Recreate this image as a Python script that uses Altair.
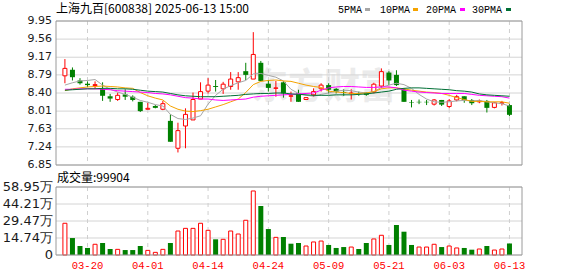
import altair as alt
import pandas as pd

# ---------------- data ----------------
tick_idx = [3, 11, 19, 27, 35, 43, 51, 59]
tick_labels = ["03-20", "04-01", "04-14", "04-24", "05-09", "05-21", "06-03", "06-13"]

price_ticks = [9.95, 9.56, 9.17, 8.79, 8.40, 8.01, 7.63, 7.24, 6.85]
price_tick_labels = ["9.95", "9.56", "9.17", "8.79", "8.40", "8.01", "7.63", "7.24", "6.85"]

vol_ticks = [58.95, 44.21, 29.47, 14.74, 0]
vol_tick_labels = ["58.95万", "44.21万", "29.47万", "14.74万", "0"]

opens = [8.77, 8.90, 8.67, 8.60, 8.56, 8.49, 8.33, 8.26, 8.37, 8.32,
         8.21, 8.05, 8.12, 8.05, 7.80, 7.21, 7.69, 7.82, 8.27, 8.44,
         8.55, 8.49, 8.54, 8.64, 8.87, 8.70, 9.05, 8.60, 8.50, 8.63,
         8.33, 8.39, 8.26, 8.36, 8.49, 8.57, 8.49, 8.42, 8.39, 8.40,
         8.41, 8.42, 8.55, 8.84, 8.79, 8.48, 8.20, 8.21, 8.21, 8.16,
         8.25, 8.11, 8.25, 8.33, 8.25, 8.21, 8.23, 8.09, 8.18, 8.14]
closes = [8.93, 8.74, 8.61, 8.57, 8.58, 8.34, 8.28, 8.35, 8.32, 8.25,
          8.01, 8.07, 8.08, 8.17, 7.35, 7.59, 7.94, 8.26, 8.43, 8.57,
          8.53, 8.59, 8.70, 8.73, 8.79, 9.23, 8.66, 8.51, 8.51, 8.39,
          8.34, 8.21, 8.30, 8.43, 8.57, 8.47, 8.43, 8.40, 8.40, 8.39,
          8.36, 8.59, 8.86, 8.67, 8.57, 8.21, 8.19, 8.20, 8.20, 8.25,
          8.15, 8.23, 8.32, 8.25, 8.18, 8.23, 8.08, 8.19, 8.19, 7.93]
highs = [9.13, 8.95, 8.72, 8.65, 8.65, 8.63, 8.38, 8.41, 8.48, 8.35,
         8.21, 8.19, 8.14, 8.23, 7.94, 7.76, 8.07, 8.41, 8.63, 8.72,
         8.68, 8.64, 8.85, 8.85, 9.05, 9.71, 9.09, 8.68, 8.66, 8.66,
         8.43, 8.47, 8.31, 8.50, 8.61, 8.61, 8.51, 8.48, 8.48, 8.43,
         8.41, 8.62, 8.93, 8.87, 8.89, 8.50, 8.25, 8.26, 8.25, 8.27,
         8.25, 8.27, 8.36, 8.33, 8.27, 8.26, 8.25, 8.21, 8.23, 8.16]
lows = [8.61, 8.67, 8.58, 8.53, 8.49, 8.23, 8.21, 8.23, 8.25, 8.22,
        7.99, 8.05, 8.07, 8.03, 7.35, 7.12, 7.21, 7.82, 8.27, 8.39,
        8.43, 8.38, 8.47, 8.47, 8.68, 8.70, 8.66, 8.43, 8.32, 8.30,
        8.21, 8.21, 8.25, 8.32, 8.43, 8.39, 8.39, 8.34, 8.26, 8.34,
        8.34, 8.39, 8.50, 8.57, 8.55, 8.21, 8.09, 8.16, 8.14, 8.13,
        8.12, 8.07, 8.22, 8.19, 8.14, 8.18, 7.98, 8.07, 8.13, 7.90]

# volume in 万 shares
volumes = [27.5, 14.7, 7.8, 6.1, 9.3, 10.4, 5.2, 4.9, 4.3, 4.3,
           7.8, 4.0, 2.3, 4.9, 10.4, 20.8, 23.1, 23.1, 27.5, 21.4,
           13.6, 13.6, 20.8, 18.2, 30.1, 55.5, 42.5, 22.5, 15.3, 15.6,
           9.8, 10.4, 7.8, 11.3, 12.1, 8.7, 6.1, 6.9, 6.9, 5.2,
           10.4, 13.9, 17.1, 8.7, 26.0, 20.2, 8.7, 6.9, 6.9, 9.3,
           6.9, 7.8, 6.1, 6.1, 4.6, 5.2, 7.8, 4.3, 5.2, 9.99]
vol_up = [1, 0, 0, 0, 1, 0, 0, 1, 0, 0,
          0, 1, 1, 1, 0, 1, 1, 1, 1, 1,
          0, 1, 1, 1, 1, 1, 0, 0, 1, 0,
          0, 0, 1, 1, 1, 0, 0, 0, 1, 0,
          0, 1, 1, 0, 0, 0, 0, 1, 1, 1,
          0, 1, 1, 0, 0, 1, 0, 1, 1, 0]

ma5 = [8.57, 8.62, 8.66, 8.67, 8.69, 8.57, 8.48, 8.42, 8.37, 8.31,
       8.24, 8.20, 8.15, 8.12, 7.94, 7.85, 7.83, 7.86, 7.91, 8.16,
       8.35, 8.48, 8.56, 8.62, 8.67, 8.81, 8.82, 8.78, 8.74, 8.66,
       8.48, 8.39, 8.35, 8.33, 8.37, 8.40, 8.44, 8.46, 8.45, 8.42,
       8.40, 8.43, 8.52, 8.57, 8.61, 8.58, 8.50, 8.37, 8.27, 8.21,
       8.20, 8.21, 8.23, 8.24, 8.23, 8.24, 8.21, 8.19, 8.17, 8.12]
ma10 = [8.45, 8.49, 8.51, 8.53, 8.54, 8.55, 8.54, 8.53, 8.51, 8.50,
        8.41, 8.34, 8.29, 8.25, 8.12, 8.05, 8.01, 8.00, 8.02, 8.05,
        8.10, 8.15, 8.21, 8.27, 8.41, 8.58, 8.65, 8.67, 8.68, 8.66,
        8.65, 8.61, 8.57, 8.54, 8.52, 8.44, 8.42, 8.41, 8.39, 8.39,
        8.40, 8.43, 8.49, 8.51, 8.51, 8.49, 8.46, 8.44, 8.42, 8.41,
        8.39, 8.35, 8.30, 8.26, 8.22, 8.22, 8.21, 8.21, 8.21, 8.18]
ma20 = [8.48, 8.48, 8.49, 8.49, 8.49, 8.48, 8.47, 8.45, 8.44, 8.43,
        8.42, 8.41, 8.39, 8.38, 8.36, 8.33, 8.30, 8.29, 8.27, 8.27,
        8.25, 8.24, 8.25, 8.26, 8.27, 8.31, 8.33, 8.34, 8.35, 8.36,
        8.37, 8.38, 8.39, 8.40, 8.46, 8.51, 8.53, 8.54, 8.54, 8.53,
        8.52, 8.52, 8.53, 8.53, 8.51, 8.46, 8.44, 8.42, 8.41, 8.40,
        8.39, 8.39, 8.39, 8.39, 8.37, 8.35, 8.34, 8.33, 8.32, 8.29]
ma30 = [8.46, 8.47, 8.48, 8.49, 8.49, 8.50, 8.50, 8.49, 8.49, 8.48,
        8.46, 8.44, 8.43, 8.42, 8.39, 8.36, 8.34, 8.33, 8.32, 8.32,
        8.32, 8.33, 8.34, 8.35, 8.37, 8.38, 8.39, 8.39, 8.40, 8.40,
        8.38, 8.37, 8.36, 8.35, 8.35, 8.35, 8.36, 8.36, 8.36, 8.37,
        8.38, 8.40, 8.42, 8.44, 8.48, 8.50, 8.51, 8.51, 8.50, 8.49,
        8.48, 8.47, 8.45, 8.44, 8.42, 8.38, 8.36, 8.35, 8.34, 8.33]

ma_names = ["5PMA", "10PMA", "20PMA", "30PMA"]
ma_colors = ["#a6a6a6", "#f5a300", "#ff00ff", "#006f35"]

title_text = "上海九百[600838] 2025-06-13 15:00"
vol_title = "成交量:99904"

# ---------------- layout constants ----------------
W, H = 466, 234          # whole plotting block (price + gap + volume)
PH = 144                 # price panel height
VT = 166                 # top of volume panel inside block
RED = "#ff0000"
GREEN = "#008000"
GRID = "#d4d4d4"
FRAME = "#9a9a9a"
CJK = "Noto Sans CJK SC"

n = len(opens)
cdf = pd.DataFrame({"i": list(range(n)), "open": opens, "close": closes,
                    "high": highs, "low": lows, "vol": volumes})
cdf["b0"] = [min(o, c) for o, c in zip(opens, closes)]
cdf["b1"] = [max(o, c) for o, c in zip(opens, closes)]
cdf["dir"] = ["up" if c >= o else "down" for o, c in zip(opens, closes)]
cdf["vdir"] = ["up" if u else "down" for u in vol_up]

rows = []
for name, series in zip(ma_names, [ma5, ma10, ma20, ma30]):
    for k, v in enumerate(series):
        rows.append({"i": k, "name": name, "v": v})
ma_df = pd.DataFrame(rows)

xt_df = pd.DataFrame({"i": tick_idx, "t": tick_labels})
pt_df = pd.DataFrame({"v": price_ticks, "t": price_tick_labels})
vt_df = pd.DataFrame({"v": vol_ticks, "t": vol_tick_labels})
one = pd.DataFrame({"a": [0]})

x_scale = alt.Scale(domain=[-0.52, 60.0], nice=False, zero=False)
p_scale = alt.Scale(domain=[6.85, 9.95], range=[PH, 0], nice=False, zero=False)
v_scale = alt.Scale(domain=[0, 58.95], range=[H, VT], nice=False, zero=False)

X = alt.X("i:Q", scale=x_scale, axis=None)

def PY(f):
    return alt.Y(f, scale=p_scale, axis=None)

def VY(f):
    return alt.Y(f, scale=v_scale, axis=None)

# ---------------- price panel ----------------
watermark = alt.Chart(one).mark_text(
    text="东方财富", font=CJK, fontSize=36, fontWeight="bold",
    color="#ebebeb", align="center", baseline="middle"
).encode(x=alt.value(268), y=alt.value(67))

p_grid = alt.Chart(pt_df).mark_rule(color=GRID, strokeWidth=1).encode(
    y=PY("v:Q"), x=alt.value(0), x2=alt.value(W))
p_vgrid = alt.Chart(xt_df).mark_rule(color="#cfcfcf", strokeDash=[4, 4], strokeWidth=1).encode(
    x=X, y=alt.value(0), y2=alt.value(PH))
p_frame = alt.Chart(one).mark_rect(fillOpacity=0, stroke=FRAME, strokeWidth=1).encode(
    x=alt.value(0), x2=alt.value(W), y=alt.value(0), y2=alt.value(PH))

base = alt.Chart(cdf)
wick_up = base.transform_filter("datum.dir == 'up'").mark_rule(color=RED, strokeWidth=1).encode(
    x=X, y=PY("low:Q"), y2="high:Q")
wick_dn = base.transform_filter("datum.dir == 'down'").mark_rule(color=GREEN, strokeWidth=1).encode(
    x=X, y=PY("low:Q"), y2="high:Q")
body_dn = base.transform_filter("datum.dir == 'down'").mark_bar(size=5, color=GREEN).encode(
    x=X, y=PY("b0:Q"), y2="b1:Q")
body_up = base.transform_filter("datum.dir == 'up'").mark_bar(
    size=4, fill="white", stroke=RED, strokeWidth=1).encode(
    x=X, y=PY("b0:Q"), y2="b1:Q")

ma_lines = alt.Chart(ma_df).mark_line(strokeWidth=1).encode(
    x=X, y=PY("v:Q"),
    color=alt.Color("name:N", scale=alt.Scale(domain=ma_names, range=ma_colors), legend=None),
    detail="name:N")

p_labels = alt.Chart(pt_df).mark_text(
    align="right", baseline="middle", font="DejaVu Sans", fontSize=11, color="#1a1a1a"
).encode(x=alt.value(-4), y=PY("v:Q"), text="t:N")

title = alt.Chart(one).mark_text(
    text=title_text, align="left", baseline="middle", font=CJK, fontSize=12, color="#000000"
).encode(x=alt.value(0), y=alt.value(-12))

legend_layers = []
leg_text_x = [282, 324, 370, 416]
leg_sq_x = [309, 357, 404, 450]
for name, col, tx, sx in zip(ma_names, ma_colors, leg_text_x, leg_sq_x):
    legend_layers.append(alt.Chart(one).mark_text(
        text=name, align="left", baseline="middle", font="Liberation Mono", fontSize=10,
        color="#000000").encode(x=alt.value(tx), y=alt.value(-11.5)))
    legend_layers.append(alt.Chart(one).mark_rect(color=col).encode(
        x=alt.value(sx), x2=alt.value(sx + 5), y=alt.value(-13), y2=alt.value(-10)))

price = alt.layer(watermark, p_grid, p_vgrid, wick_up, wick_dn, body_dn, body_up,
                  ma_lines, p_frame, p_labels, title, *legend_layers)

# ---------------- volume panel ----------------
v_grid = alt.Chart(vt_df).mark_rule(color=GRID, strokeWidth=1).encode(
    y=VY("v:Q"), x=alt.value(0), x2=alt.value(W))
v_vgrid = alt.Chart(xt_df).mark_rule(color="#cfcfcf", strokeDash=[4, 4], strokeWidth=1).encode(
    x=X, y=alt.value(VT), y2=alt.value(H))
v_frame = alt.Chart(one).mark_rect(fillOpacity=0, stroke=FRAME, strokeWidth=1).encode(
    x=alt.value(0), x2=alt.value(W), y=alt.value(VT), y2=alt.value(H))

vbar_dn = base.transform_filter("datum.vdir == 'down'").mark_bar(size=5, color=GREEN).encode(
    x=X, y=VY("vol:Q"))
vbar_up = base.transform_filter("datum.vdir == 'up'").mark_bar(
    size=4, fill="white", stroke=RED, strokeWidth=1).encode(x=X, y=VY("vol:Q"))

v_labels = alt.Chart(vt_df).mark_text(
    align="right", baseline="middle", font="DejaVu Sans", fontSize=13, color="#1a1a1a"
).encode(x=alt.value(-3), y=VY("v:Q"), text="t:N")

v_title = alt.Chart(one).mark_text(
    text=vol_title, align="left", baseline="middle", font=CJK, fontSize=12, color="#000000"
).encode(x=alt.value(1), y=alt.value(VT - 9))

x_labels = alt.Chart(xt_df).mark_text(
    align="center", baseline="middle", font="Liberation Mono", fontSize=10.5, color=RED
).encode(x=X, y=alt.value(H + 11), text="t:N")

volume = alt.layer(v_grid, v_vgrid, vbar_dn, vbar_up, v_frame, v_labels, v_title, x_labels)

chart = alt.layer(price, volume).resolve_scale(y="independent").properties(
    width=W, height=H,
    padding={"left": 56, "top": 21, "right": 56, "bottom": 21},
    autosize=alt.AutoSizeParams(type="none"),
    background="white",
).configure_view(strokeWidth=0)

chart.save("out.html", embed_options={"renderer": "svg", "actions": False})
